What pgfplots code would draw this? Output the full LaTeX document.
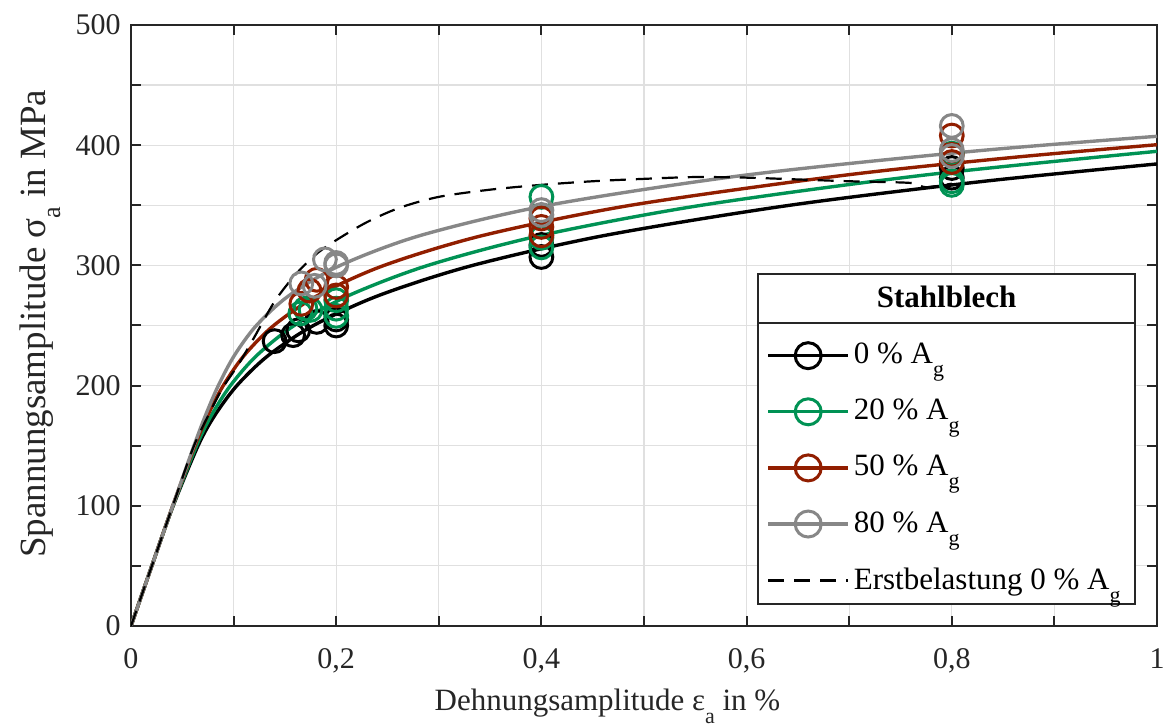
\documentclass[border=0pt]{standalone}
\usepackage{fontspec}
\setmainfont{Liberation Serif}
\usepackage{pgfplots}
\pgfplotsset{compat=1.18}
\definecolor{cgreen}{RGB}{0,146,84}
\definecolor{cred}{RGB}{145,30,0}
\definecolor{cgray}{RGB}{135,135,135}
\definecolor{axc}{RGB}{38,38,38}
\newcommand{\sub}[1]{\raisebox{-6.5pt}{\fontsize{11}{13}\selectfont #1}}
\newcommand{\subb}[1]{\raisebox{-7.5pt}{\fontsize{13}{15}\selectfont #1}}
\begin{document}
\fontsize{15}{17}\selectfont
\begin{tikzpicture}
\begin{axis}[
 scale only axis, width=513pt, height=300.5pt, at={(0,0)}, anchor=south west,
 xmin=0, xmax=1, ymin=0, ymax=500,
 xtick={0,0.1,0.2,0.3,0.4,0.5,0.6,0.7,0.8,0.9,1},
 xticklabels={0,,0{,}2,,0{,}4,,0{,}6,,0{,}8,,1},
 ytick={0,50,100,150,200,250,300,350,400,450,500},
 yticklabels={0,,100,,200,,300,,400,,500},
 grid=major, major grid style={line width=0.6pt, color=black!12},
 tick align=inside, major tick length=5pt, tick style={line width=1pt, color=axc},
 axis line style={line width=1pt, color=axc},
 ticklabel style={font=\fontsize{15}{17}\selectfont, text=axc},
 xticklabel style={yshift=-6pt},
 /pgf/number format/assume math mode=true,
 xlabel={Dehnungsamplitude ε\sub{a} in \%},
 ylabel={Spannungsamplitude σ\subb{a} in MPa},
 x label style={font=\fontsize{15.5}{18}\selectfont, text=axc, at={(axis description cs:0.4644,-0.1414)}, anchor=base},
 y label style={font=\fontsize{18.5}{20}\selectfont, text=axc, at={(axis description cs:-0.0838,0.503)}, anchor=base},
 legend style={at={(0.619,0.478)}, anchor=north west, draw=none, fill=none,
   inner sep=0pt, row sep=11.5pt, font=\fontsize{15.5}{17}\selectfont},
 legend cell align=left,
 legend image code/.code={\draw[mark repeat=2,mark phase=2] plot coordinates {(0pt,0pt) (20pt,0pt) (40pt,0pt)};},
 every axis plot/.append style={line width=1.7pt},
]
% legend frame and title
\fill[white] (rel axis cs:0.611,0.0366) rectangle (rel axis cs:0.9786,0.5857);
\draw[axc, line width=0.8pt] (rel axis cs:0.611,0.0366) rectangle (rel axis cs:0.9786,0.5857);
\draw[axc, line width=0.8pt] (rel axis cs:0.611,0.504) -- (rel axis cs:0.9786,0.504);
\node[font=\fontsize{15.5}{17}\selectfont\bfseries] at (rel axis cs:0.795,0.547) {Stahlblech};

% fitted curves
\addplot[black, smooth, forget plot] coordinates {(0,0)(0.0203,50)(0.0411,100)(0.0654,150)(0.0815,175)(0.1032,200)(0.1337,225)(0.1778,250)(0.2416,275)(0.3330,300)(0.4622,325)(0.6418,350)(0.8317,370)(1.0,384.4)};
\addplot[cgreen, smooth, forget plot] coordinates {(0,0)(0.0203,50)(0.0409,100)(0.0639,150)(0.0782,175)(0.0969,200)(0.1225,225)(0.1591,250)(0.2124,275)(0.2894,300)(0.3998,325)(0.5558,350)(0.7720,375)(1.0,394.9)};
\addplot[cred, smooth, forget plot] coordinates {(0,0)(0.0203,50)(0.0407,100)(0.0623,150)(0.0747,175)(0.0899,200)(0.1102,225)(0.1391,250)(0.1820,275)(0.2467,300)(0.3434,325)(0.4869,350)(0.6953,375)(0.8617,390)(1.0,400.4)};
\addplot[cgray, smooth, forget plot] coordinates {(0,0)(0.0203,50)(0.0407,100)(0.0614,150)(0.0725,175)(0.0851,200)(0.1007,225)(0.1222,250)(0.1542,275)(0.2040,300)(0.2825,325)(0.4063,350)(0.5979,375)(0.8211,395)(1.0,407.4)};
\addplot[black, line width=1.1pt, dash pattern=on 8pt off 5pt, smooth, forget plot] coordinates {(0,0)(0.0407,100)(0.0614,150)(0.08,183)(0.09,199)(0.105,218)(0.12,240)(0.14,270)(0.16,292)(0.18,309)(0.2,321)(0.23,336)(0.262,348)(0.3,357)(0.35,363)(0.4,367)(0.45,370)(0.5,372)(0.55,373.5)(0.6,373)(0.65,371.5)(0.7,370)(0.75,369)(0.765,368)(0.775,365)(0.8,368)};

% measured points
\addplot[only marks, black, mark=o, mark size=5.7pt, mark options={line width=1.5pt}, forget plot] coordinates {(0.14,237)(0.158,242)(0.163,246)(0.181,253)(0.2,250)(0.2,255)(0.4,307)(0.4,317)(0.8,373)(0.8,381)};
\addplot[only marks, cgreen, mark=o, mark size=5.7pt, mark options={line width=1.5pt}, forget plot] coordinates {(0.165,260)(0.17,264)(0.175,263)(0.2,258)(0.2,264)(0.2,271)(0.4,315)(0.4,323)(0.4,357)(0.8,367)(0.8,370)(0.8,393)};
\addplot[only marks, cred, mark=o, mark size=5.7pt, mark options={line width=1.5pt}, forget plot] coordinates {(0.166,268)(0.174,279)(0.181,288)(0.2,275)(0.2,282)(0.4,325)(0.4,332)(0.4,339)(0.8,386)(0.8,392)(0.8,408)};
\addplot[only marks, cgray, mark=o, mark size=5.7pt, mark options={line width=1.5pt}, forget plot] coordinates {(0.166,285)(0.179,283)(0.189,305)(0.2,300)(0.2,302)(0.4,342)(0.4,346)(0.8,391)(0.8,396)(0.8,416)};

% legend
\addlegendimage{black, mark=o, mark size=6.5pt, mark options={line width=1.5pt}}
\addlegendentry{0 \% A\sub{g}}
\addlegendimage{cgreen, mark=o, mark size=6.5pt, mark options={line width=1.5pt}}
\addlegendentry{20 \% A\sub{g}}
\addlegendimage{cred, mark=o, mark size=6.5pt, mark options={line width=1.5pt}}
\addlegendentry{50 \% A\sub{g}}
\addlegendimage{cgray, mark=o, mark size=6.5pt, mark options={line width=1.5pt}}
\addlegendentry{80 \% A\sub{g}}
\addlegendimage{black, line width=1.1pt, dash pattern=on 8pt off 5pt}
\addlegendentry{Erstbelastung 0 \% A\sub{g}}
\end{axis}
\pgfresetboundingbox
\path[use as bounding box] (-65.5pt,-50.5pt) rectangle (518pt,313pt);
\end{tikzpicture}
\end{document}
